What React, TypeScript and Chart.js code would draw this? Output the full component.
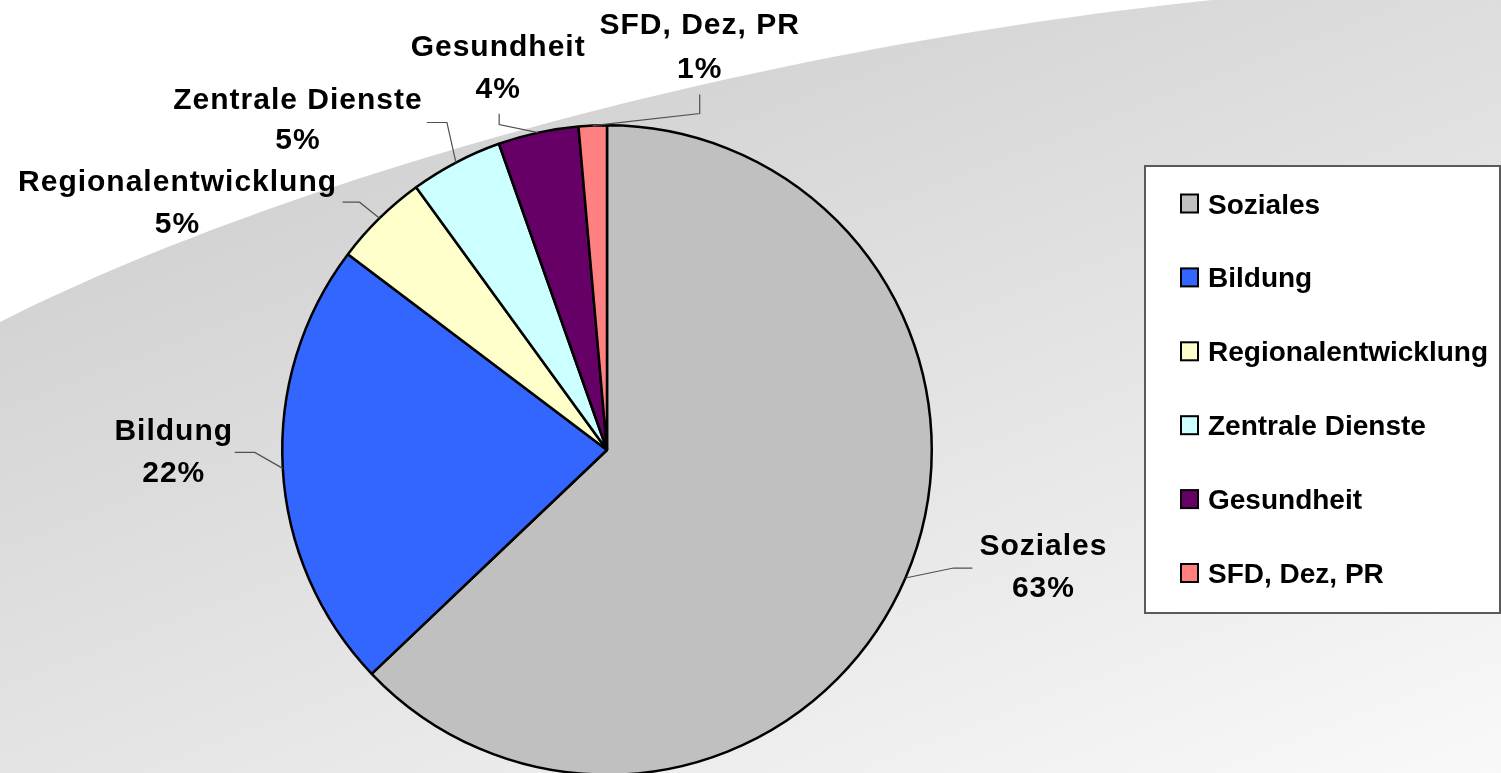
import React, { useEffect, useRef } from 'react';
import { Chart, registerables } from 'chart.js';

Chart.register(...registerables);

// ---- data ----
const categories = ['Soziales', 'Bildung', 'Regionalentwicklung', 'Zentrale Dienste', 'Gesundheit', 'SFD, Dez, PR'];
const shares = [62.9, 22.4, 4.7, 4.6, 4.0, 1.4];
const sliceColors = ['#C0C0C0', '#3366FF', '#FFFFCC', '#CCFFFF', '#660066', '#FF8080'];

// ---- label layout (offsets relative to the slice's outer mid point) ----
const leaderBends: number[][][] = [
  [[48, -10], [67, -10]],
  [[-28, -16], [-48, -16]],
  [[-20, -16], [-37, -16]],
  [[-9, -40], [-29, -40]],
  [[-39, -8], [-39, -19]],
  [[107, -12], [107, -31]],
];
const labelAnchors: number[][] = [
  [138, -23, 19],
  [-109, -28, 14],
  [-202, -27, 15],
  [-158, -54, -14],
  [-40, -77, -35],
  [107, -92, -48],
];

const FONT = '"Liberation Sans", Arial, Helvetica, sans-serif';

const backgroundPlugin = {
  id: 'slideBackground',
  beforeDraw(chart: any) {
    const { ctx, width, height } = chart;
    ctx.save();
    ctx.fillStyle = '#ffffff';
    ctx.fillRect(0, 0, width, height);
    const g = ctx.createLinearGradient(0, 0, 469, 1206);
    g.addColorStop(0, '#c8c8c8');
    g.addColorStop(1, '#fafafa');
    ctx.beginPath();
    ctx.moveTo(0, 322);
    ctx.bezierCurveTo(300, 170, 850, 15, 1400, -15);
    ctx.lineTo(width, -15);
    ctx.lineTo(width, height);
    ctx.lineTo(0, height);
    ctx.closePath();
    ctx.fillStyle = g;
    ctx.fill();
    ctx.restore();
  },
};

const labelPlugin = {
  id: 'sliceLabels',
  afterDatasetsDraw(chart: any) {
    const { ctx } = chart;
    const meta = chart.getDatasetMeta(0);
    const values: number[] = chart.data.datasets[0].data;
    const total = values.reduce((a, b) => a + b, 0);
    ctx.save();
    meta.data.forEach((arc: any, i: number) => {
      const p = arc.getProps(['x', 'y', 'startAngle', 'endAngle', 'outerRadius'], true);
      const mid = (p.startAngle + p.endAngle) / 2;
      const ex = p.x + Math.cos(mid) * p.outerRadius;
      const ey = p.y + Math.sin(mid) * p.outerRadius;
      // leader line
      ctx.strokeStyle = '#505050';
      ctx.lineWidth = 1.2;
      ctx.beginPath();
      ctx.moveTo(ex, ey);
      leaderBends[i].forEach(([dx, dy]) => ctx.lineTo(ex + dx, ey + dy));
      ctx.stroke();
      // text
      const [tx, b1, b2] = labelAnchors[i];
      ctx.fillStyle = '#000000';
      ctx.font = `bold 30px ${FONT}`;
      ctx.textAlign = 'center';
      ctx.textBaseline = 'alphabetic';
      try { (ctx as any).letterSpacing = '1px'; } catch (e) {}
      ctx.fillText(chart.data.labels[i], ex + tx, ey + b1);
      ctx.fillText(Math.round((values[i] / total) * 100) + '%', ex + tx, ey + b2);
      try { (ctx as any).letterSpacing = '0px'; } catch (e) {}
    });
    ctx.restore();
  },
};

const legendPlugin = {
  id: 'boxLegend',
  afterDraw(chart: any) {
    const { ctx } = chart;
    const left = 1145, top = 166, right = 1500, bottom = 613;
    ctx.save();
    ctx.fillStyle = '#ffffff';
    ctx.fillRect(left, top, right - left, bottom - top);
    ctx.strokeStyle = '#5a5a5a';
    ctx.lineWidth = 2;
    ctx.strokeRect(left, top, right - left, bottom - top);
    const labels: string[] = chart.data.labels;
    const colors: string[] = chart.data.datasets[0].backgroundColor;
    ctx.font = `bold 28px ${FONT}`;
    ctx.textAlign = 'left';
    ctx.textBaseline = 'alphabetic';
    labels.forEach((lab, i) => {
      const cy = 203.5 + i * 73.9;
      ctx.fillStyle = colors[i];
      ctx.fillRect(1181, cy - 9, 17, 18);
      ctx.strokeStyle = '#000000';
      ctx.lineWidth = 2;
      ctx.strokeRect(1181, cy - 9, 17, 18);
      ctx.fillStyle = '#000000';
      ctx.fillText(lab, 1208, cy + 10);
    });
    ctx.restore();
  },
};

export default function App() {
  const canvasRef = useRef<HTMLCanvasElement | null>(null);

  useEffect(() => {
    document.body.style.margin = '0';
    document.body.style.overflow = 'hidden';
    const canvas = canvasRef.current;
    if (!canvas) return;
    const chart = new Chart(canvas, {
      type: 'pie',
      data: {
        labels: categories,
        datasets: [
          {
            data: shares,
            backgroundColor: sliceColors,
            borderColor: '#000000',
            borderWidth: 2.5,
          },
        ],
      },
      options: {
        responsive: false,
        animation: false,
        devicePixelRatio: 1,
        layout: { padding: { left: 281, right: 568, top: 124, bottom: 24 } },
        plugins: {
          legend: { display: false },
          tooltip: { enabled: false },
          title: { display: false },
        },
      },
      plugins: [backgroundPlugin, labelPlugin, legendPlugin],
    });
    return () => chart.destroy();
  }, []);

  return (
    <div style={{ width: 1501, height: 773, overflow: 'hidden', position: 'relative' }}>
      <canvas ref={canvasRef} width={1501} height={800} style={{ display: 'block' }} />
    </div>
  );
}
